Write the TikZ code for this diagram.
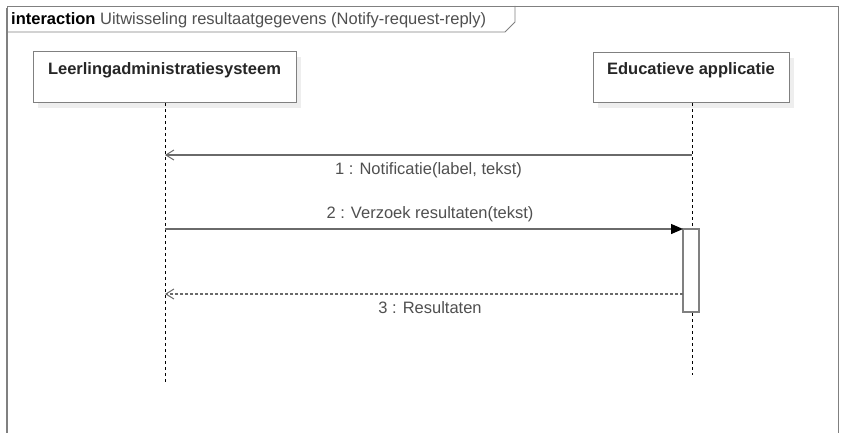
\documentclass[tikz,border=0pt]{standalone}
\usepackage{fontspec}
\setmainfont{Liberation Sans}
\usetikzlibrary{arrows.meta}
\definecolor{framegray}{HTML}{808080}
\definecolor{msggray}{HTML}{6A6A6A}
\definecolor{txtgray}{HTML}{505050}
\definecolor{shadowgray}{HTML}{EEEEEE}
\begin{document}
\begin{tikzpicture}[x=1pt,y=-1pt,
  lbl/.style={font=\fontsize{16.5}{18}\selectfont, text=txtgray, inner sep=0pt},
  headtxt/.style={font=\bfseries\fontsize{16.5}{18}\selectfont, text=black!85, inner sep=0pt},
  headbox/.style={draw=framegray, line width=1pt, fill=white},
  lifeline/.style={black, line width=0.8pt, dash pattern=on 3pt off 3pt},
  msg/.style={msggray, line width=1.3pt},
  openhead/.style={-{Straight Barb[length=8pt,width=10pt,line width=1pt]}},
  fullhead/.style={-{Triangle[length=12pt,width=10pt,fill=black,color=black]}}]
\useasboundingbox (0,0) rectangle (842,433);
\fill[white] (0,0) rectangle (842,433);

% diagram frame and its name tab
\draw[framegray, line width=0.8pt] (7,440) -- (7,6) -- (838,6) -- (838,440);
\draw[framegray, line width=2pt] (7,8) -- (7,440);
\draw[framegray, line width=0.8pt] (7,32) -- (505,32) -- (515,22) -- (515,6);
\node[lbl, anchor=base west] (title) at (11,25)
  {\textbf{\color{black}interaction} Uitwisseling resultaatgegevens (Notify-request-reply)};

% lifeline heads with their shadows
\fill[shadowgray] (38,57) rectangle (301,108);
\fill[shadowgray] (598,58) rectangle (794,108);
\draw[headbox] (33,52) rectangle (296,103);
\draw[headbox] (593,53) rectangle (789,103);
\node[headtxt] (las) at (164.5,70) {Leerlingadministratiesysteem};
\node[headtxt] (ea) at (691,70) {Educatieve applicatie};

\coordinate (lasTop) at (165,103);
\coordinate (lasEnd) at (165,382);
\coordinate (eaTop) at (692,103);
\coordinate (eaEnd) at (692,375);
\draw[lifeline] (lasTop) -- (lasEnd);
\draw[lifeline] (eaTop) -- (eaEnd);

% activation bar on the application lifeline
\draw[framegray, line width=1.2pt, fill=white] (683,229) rectangle (699,312);
\coordinate (actIn) at (683,229);
\coordinate (actOut) at (683,294);

% messages
\coordinate (m1s) at (692,155);
\coordinate (m1e) at (165,155);
\coordinate (m2s) at (165,229);
\coordinate (m3e) at (165,294);
\draw[msg, openhead] (m1s) -- (m1e);
\node[lbl] (l1) at (428.5,170) {1 : Notificatie(label, tekst)};
\draw[msg, fullhead] (m2s) -- (actIn);
\node[lbl] (l2) at (430,214) {2 : Verzoek resultaten(tekst)};
\draw[msg, openhead, line width=1.1pt, dash pattern=on 3pt off 2pt] (actOut) -- (m3e);
\node[lbl] (l3) at (430,308) {3 : Resultaten};
\end{tikzpicture}
\end{document}
